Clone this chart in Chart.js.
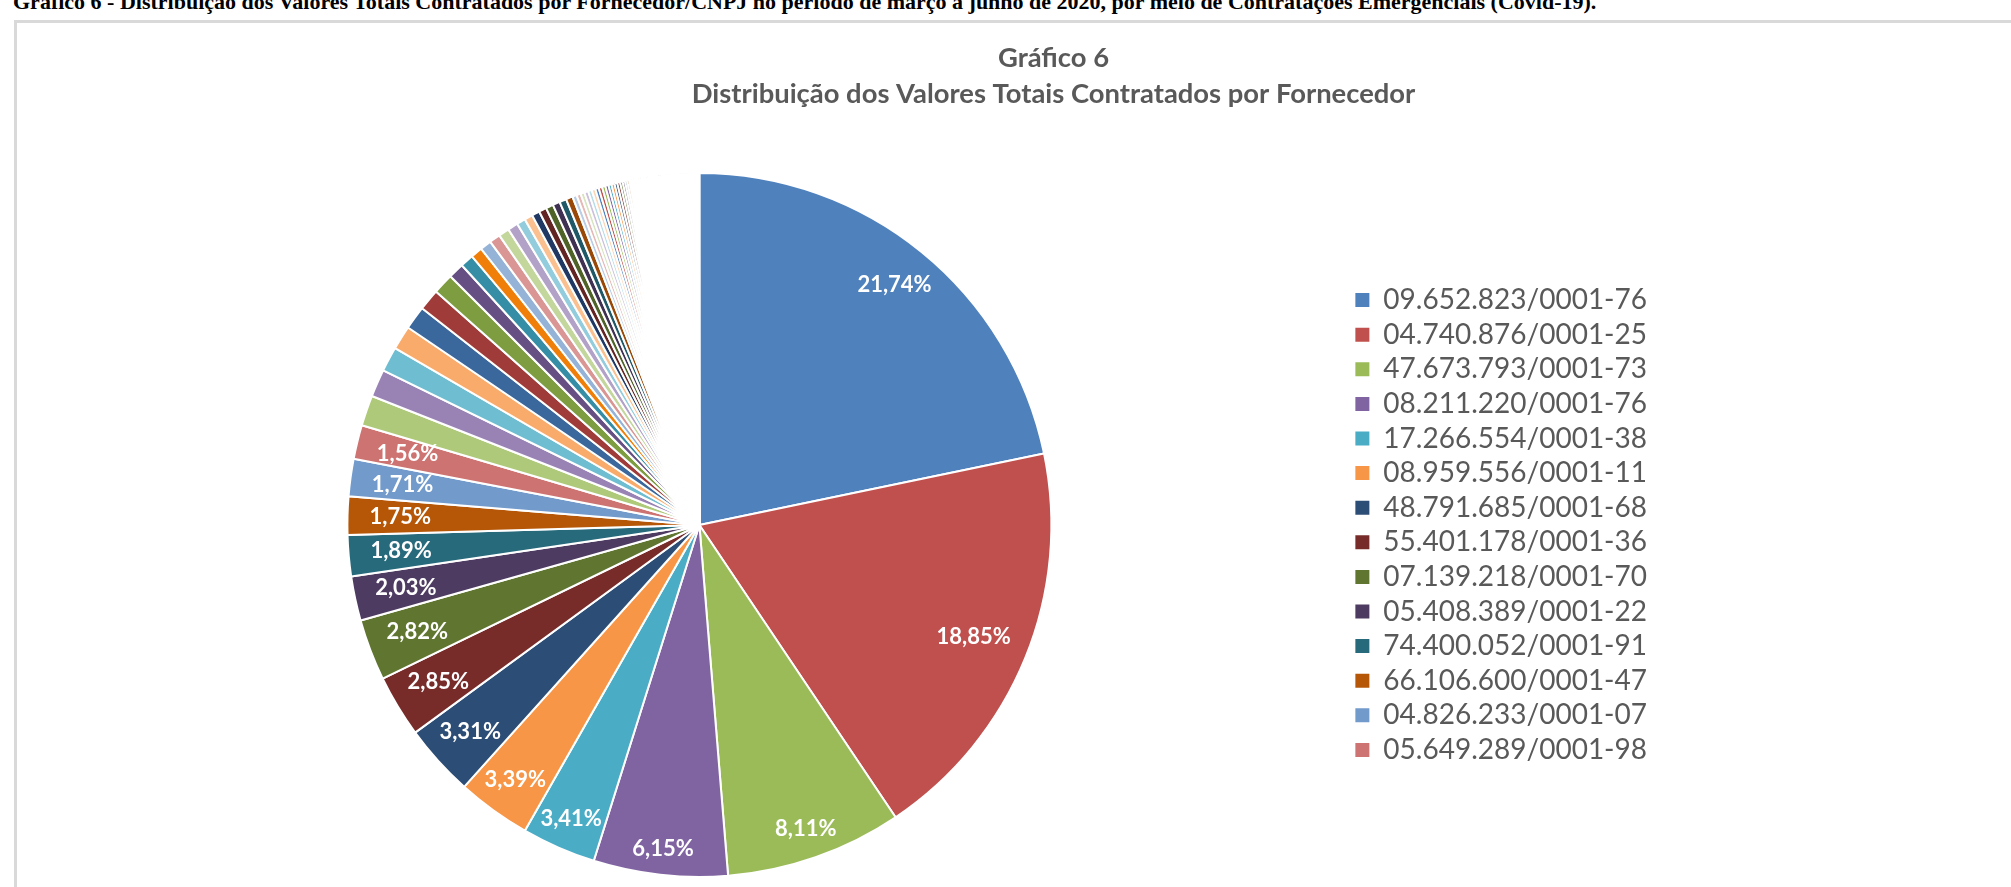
<!DOCTYPE html>
<html lang="pt-BR">
<head>
<meta charset="utf-8">
<title>Gráfico 6 - Distribuição dos Valores Totais Contratados por Fornecedor</title>
<script src="https://cdn.jsdelivr.net/npm/chart.js@4.4.0/dist/chart.umd.min.js"></script>
<style>
    html, body { margin: 0; padding: 0; background: #fff; width: 2011px; height: 887px; overflow: hidden; }
    #legenda-fonte {
        position: absolute; left: 13px; top: -10px; white-space: nowrap; color: #000;
        font: bold 22px 'Liberation Serif', 'Times New Roman', serif; line-height: 24px;
    }
    #moldura { position: absolute; left: 14px; top: 20px; width: 2040px; height: 900px; border: 3px solid #d9d9d9; }
    #moldura canvas { display: block; }
</style>
</head>
<body>
<div id="legenda-fonte">Gráfico 6 - Distribuição dos Valores Totais Contratados por Fornecedor/CNPJ no período de março a junho de 2020, por meio de Contratações Emergenciais (Covid-19).</div>
<div id="moldura"><canvas id="grafico" width="2040" height="900"></canvas></div>
<script>
// Fornecedores que aparecem na legenda (CNPJ)
const fornecedores = [
    '09.652.823/0001-76', '04.740.876/0001-25', '47.673.793/0001-73', '08.211.220/0001-76',
    '17.266.554/0001-38', '08.959.556/0001-11', '48.791.685/0001-68', '55.401.178/0001-36',
    '07.139.218/0001-70', '05.408.389/0001-22', '74.400.052/0001-91', '66.106.600/0001-47',
    '04.826.233/0001-07', '05.649.289/0001-98'
];

// Participação (%) de cada um desses fornecedores
const valores = [21.74, 18.85, 8.11, 6.15, 3.41, 3.39, 3.31, 2.85, 2.82, 2.03, 1.89, 1.75, 1.71, 1.56];

// Demais fornecedores, sem rótulo nem legenda (estimados pela largura das fatias)
const demais = [
    1.40, 1.27, 1.14, 1.10, 1.08, 0.98, 0.95, 0.72, 0.61, 0.54, 0.52, 0.50, 0.49, 0.47, 0.40, 0.38,
    0.36, 0.35, 0.34, 0.33, 0.32, 0.31,
    0.20, 0.19, 0.18, 0.18, 0.17, 0.17,
    0.16, 0.16, 0.15, 0.15, 0.14, 0.14, 0.13, 0.13, 0.12
];

// Fatias muito pequenas, encobertas pelas bordas brancas perto das 12 horas
const minimos = [
    0.11, 0.10, 0.10, 0.09, 0.09, 0.09, 0.08, 0.08, 0.08, 0.07, 0.07, 0.07, 0.07,
    0.06, 0.06, 0.06, 0.06, 0.06,
    0.05, 0.05, 0.05, 0.05, 0.05, 0.05, 0.05, 0.05, 0.05, 0.05, 0.05, 0.05,
    0.04, 0.04, 0.04, 0.04, 0.04, 0.04, 0.04, 0.04, 0.04, 0.04, 0.04, 0.04, 0.04, 0.04,
    0.03, 0.03, 0.03, 0.03, 0.03, 0.03, 0.03, 0.03, 0.03, 0.03, 0.03, 0.03, 0.03, 0.03, 0.03, 0.03,
    0.02, 0.02, 0.02, 0.02, 0.02, 0.02, 0.02, 0.02, 0.02, 0.02, 0.02, 0.02, 0.02, 0.02, 0.02,
    0.01, 0.01, 0.01, 0.01, 0.01, 0.01, 0.01, 0.01, 0.01, 0.01, 0.01, 0.01, 0.01, 0.01, 0.01, 0.01
];

// Paleta padrão do Excel (tons base, escuros, claros...)
const cores = [
    '#4F81BD', '#C0504D', '#9BBB59', '#8064A2', '#4BACC6', '#F79646',
    '#2C4D75', '#772C2A', '#5F7530', '#4D3B62', '#276A7C', '#B65708',
    '#729ACA', '#CD7371', '#AFC97A', '#9983B5', '#6FBDD1', '#F9AB6B',
    '#3A679C', '#9F3B38', '#7E9C40', '#664F83', '#358EA6', '#F07F09',
    '#95B3D7', '#D99694', '#C3D69B', '#B3A2C7', '#93CDDD', '#FAC090',
    '#1F3864', '#632523', '#4F6228', '#3F3151', '#205867', '#984807',
    '#B9CDE5', '#E6B9B8', '#D7E4BD', '#CCC1DA', '#B7DEE8', '#FCD5B5'
];

const todos = valores.concat(demais, minimos);
const rotulos = todos.map((v, i) => fornecedores[i] || '');
const coresFatias = todos.map((v, i) => cores[i % cores.length]);

const corTexto = '#595959';
const fonte = 'Lato';

/**
 * Caixa vazia à direita da legenda: empurra a legenda para junto da pizza
 * sem tirar o título do centro do quadro.
 */
const espacoDireita = {
    id: 'espacoDireita',
    beforeInit(chart) {
        Chart.layouts.addBox(chart, {
            position: 'right',
            weight: 1500,
            fullSize: false,
            options: {},
            width: 0,
            height: 0,
            isHorizontal() { return false; },
            update(maxWidth, maxHeight) {
                this.width = 400;
                this.height = maxHeight;
            },
            draw() {}
        });
    }
};

/**
 * Rótulos de percentual dentro das fatias, junto à borda (como "extremidade interna")
 */
const rotulosPct = {
    id: 'rotulosPct',
    afterDatasetsDraw(chart) {
        const ctx = chart.ctx;
        const meta = chart.getDatasetMeta(0);
        ctx.save();
        ctx.font = 'bold 22px ' + fonte;
        ctx.fillStyle = '#fff';
        ctx.textAlign = 'center';
        ctx.textBaseline = 'middle';
        meta.data.forEach((arc, i) => {
            if (i >= fornecedores.length) return;
            const p = arc.getProps(['x', 'y', 'startAngle', 'endAngle', 'outerRadius'], true);
            const meio = (p.startAngle + p.endAngle) / 2;
            const texto = valores[i].toFixed(2).replace('.', ',') + '%';
            const w = ctx.measureText(texto).width;
            const ex = Math.cos(meio) * (w / 2 + 14);
            const ey = Math.sin(meio) * (11 + 6);
            const d = p.outerRadius - 8 - Math.sqrt(ex * ex + ey * ey);
            ctx.fillText(texto, p.x + Math.cos(meio) * d, p.y + Math.sin(meio) * d);
        });
        ctx.restore();
    }
};

new Chart(document.getElementById('grafico'), {
    type: 'pie',
    data: {
        labels: rotulos,
        datasets: [{
            data: todos,
            backgroundColor: coresFatias,
            borderColor: '#fff',
            borderWidth: 2,
            radius: 352
        }]
    },
    options: {
        responsive: false,
        animation: false,
        events: [],
        layout: { padding: { left: 33, right: 0, top: 0, bottom: 23 } },
        plugins: {
            title: {
                display: true,
                text: ['Gráfico 6', 'Distribuição dos Valores Totais Contratados por Fornecedor'],
                color: corTexto,
                font: { family: fonte, size: 27.4, weight: 'bold', lineHeight: 36 / 27.4 },
                padding: { top: 17, bottom: 38 }
            },
            legend: {
                position: 'right',
                align: 'center',
                fullSize: false,
                labels: {
                    boxWidth: 14,
                    boxHeight: 14,
                    padding: 6.6,
                    color: corTexto,
                    font: { family: fonte, size: 28 },
                    generateLabels: () => fornecedores.map((nome, i) => ({
                        text: nome,
                        fillStyle: coresFatias[i],
                        strokeStyle: coresFatias[i],
                        lineWidth: 0,
                        fontColor: corTexto,
                        hidden: false,
                        index: i
                    }))
                }
            },
            tooltip: { enabled: false }
        }
    },
    plugins: [espacoDireita, rotulosPct]
});
</script>
</body>
</html>
